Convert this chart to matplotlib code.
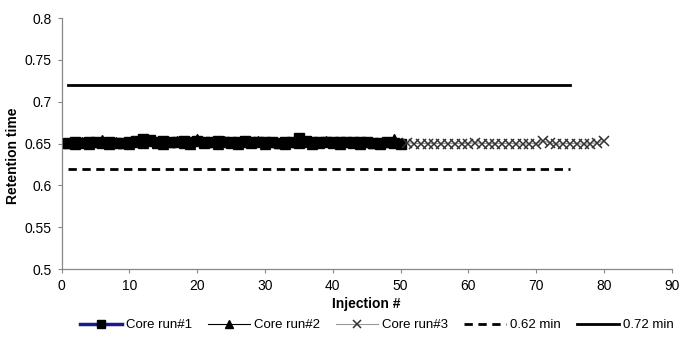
import matplotlib
matplotlib.use("Agg")
import matplotlib.pyplot as plt

plt.rcParams['font.family'] = ['Liberation Sans', 'DejaVu Sans']

# Data
run1_x = list(range(1, 51))
run1_y = [0.651, 0.652, 0.651, 0.652, 0.652, 0.651, 0.652, 0.651, 0.651, 0.652,
          0.653, 0.655, 0.654, 0.652, 0.653, 0.652, 0.652, 0.653, 0.652, 0.653,
          0.652, 0.652, 0.653, 0.652, 0.652, 0.652, 0.653, 0.652, 0.652, 0.652,
          0.652, 0.651, 0.652, 0.652, 0.656, 0.653, 0.652, 0.652, 0.652, 0.652,
          0.652, 0.652, 0.652, 0.652, 0.652, 0.651, 0.651, 0.652, 0.651, 0.650]
run2_x = list(range(1, 51))
run2_y = [0.651, 0.650, 0.652, 0.650, 0.652, 0.654, 0.650, 0.652, 0.651, 0.650,
          0.652, 0.651, 0.653, 0.651, 0.650, 0.652, 0.653, 0.651, 0.650, 0.655,
          0.651, 0.652, 0.650, 0.653, 0.651, 0.650, 0.652, 0.651, 0.653, 0.650,
          0.652, 0.651, 0.650, 0.652, 0.651, 0.652, 0.650, 0.651, 0.653, 0.651,
          0.650, 0.652, 0.651, 0.650, 0.652, 0.651, 0.650, 0.652, 0.655, 0.651]
run3_x = list(range(51, 81))
run3_y = [0.651, 0.650, 0.650, 0.650, 0.650, 0.650, 0.650, 0.650, 0.650, 0.650,
          0.651, 0.650, 0.650, 0.650, 0.650, 0.650, 0.650, 0.649, 0.650, 0.650,
          0.653, 0.651, 0.649, 0.650, 0.650, 0.650, 0.649, 0.650, 0.651, 0.653]
limit_x = list(range(1, 76))
low_limit = [0.62] * len(limit_x)
high_limit = [0.72] * len(limit_x)

x_ticks = [0, 10, 20, 30, 40, 50, 60, 70, 80, 90]
y_ticks = [0.5, 0.55, 0.6, 0.65, 0.7, 0.75, 0.8]
y_tick_labels = ['0.5', '0.55', '0.6', '0.65', '0.7', '0.75', '0.8']

fig = plt.figure(figsize=(6.81, 3.43), dpi=100)
ax = fig.add_axes([0.0906, 0.2157, 0.8957, 0.7318])

ax.plot(run1_x, run1_y, color='#1a1a8c', lw=2.5, marker='s', ms=7,
        mfc='black', mec='black', label='Core run#1', zorder=3)
ax.plot(run2_x, run2_y, color='black', lw=0.8, marker='^', ms=7,
        mfc='black', mec='black', label='Core run#2', zorder=4)
ax.plot(run3_x, run3_y, color='#999999', lw=0.8, marker='x', ms=7,
        mec='#333333', mew=1.1, label='Core run#3', zorder=4)
ax.plot(limit_x, low_limit, color='black', lw=2, ls=(0, (3, 2)), label='0.62 min')
ax.plot(limit_x, high_limit, color='black', lw=2, label='0.72 min')

ax.set_xlim(0, 90)
ax.set_ylim(0.5, 0.8)
ax.set_xticks(x_ticks)
ax.set_yticks(y_ticks)
ax.set_yticklabels(y_tick_labels)
ax.tick_params(labelsize=10, length=3, color='#888888', pad=4)
for s in ['top', 'right']:
    ax.spines[s].set_visible(False)
for s in ['left', 'bottom']:
    ax.spines[s].set_color('#888888')
    ax.spines[s].set_linewidth(0.9)

ax.set_xlabel('Injection #', fontsize=10, fontweight='bold', labelpad=3)
ax.set_ylabel('Retention time', fontsize=10, fontweight='bold')
ax.yaxis.set_label_coords(-0.069, 0.45)

leg = fig.legend(loc='center', bbox_to_anchor=(0.553, 0.052), ncol=5, frameon=False,
                 fontsize=9.5, handlelength=3.2, handletextpad=0.3, columnspacing=1.2,
                 markerscale=0.8)

fig.savefig('out.png', dpi=100)
